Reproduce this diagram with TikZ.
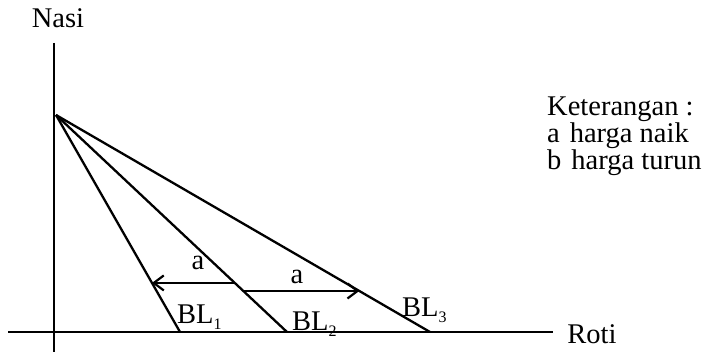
\documentclass[tikz,border=0pt]{standalone}
\usepackage{fontspec}
\setmainfont{Liberation Serif}
\usetikzlibrary{calc,arrows.meta}
\newcommand{\blsub}[1]{\raisebox{-6pt}{\fontsize{16}{16}\selectfont #1}}
\begin{document}
\begin{tikzpicture}[x=1pt,y=1pt,
  axis/.style={line width=2.4pt},
  budget/.style={line width=2.3pt},
  shiftarrow/.style={line width=2.2pt,-{Straight Barb[length=10pt,width=15pt,line width=2.2pt]}},
  lbl/.style={font=\fontsize{28.5}{28.5}\selectfont,inner sep=0pt}]
\useasboundingbox (0,0) rectangle (715,355);
% axes
\coordinate (ytop) at (54,312);
\coordinate (ybot) at (54,3);
\coordinate (xl) at (8,23);
\coordinate (xr) at (553,23);
\draw[axis] (ytop) -- (ybot);
\draw[axis] (xl) -- (xr);
% budget lines
\coordinate (A) at (56,240);
\coordinate (B1) at (180,23);
\coordinate (B2) at (287,23);
\coordinate (B3) at (430,23);
\draw[budget] (A) -- (B1);
\draw[budget] (A) -- (B2);
\draw[budget] (A) -- (B3);
% shifts
\coordinate (L2) at ($(A)!0.774!(B2)$);
\coordinate (L1) at ($(A)!0.774!(B1)$);
\coordinate (R2) at ($(A)!0.811!(B2)$);
\coordinate (R3) at ($(A)!0.811!(B3)$);
\draw[shiftarrow] (L2) -- (L1);
\draw[shiftarrow] (R2) -- (R3);
% labels
\node[lbl] (la1) at (198,92) {a};
\node[lbl] (la2) at (297,78) {a};
\node[lbl,anchor=base west] (bl1) at (177,31) {BL\blsub{1}};
\node[lbl,anchor=base west] (bl2) at (292,24) {BL\blsub{2}};
\node[lbl,anchor=base west] (bl3) at (402,38) {BL\blsub{3}};
\node[lbl] (nasi) at (58,337) {Nasi};
\node[lbl] (roti) at (592,21) {Roti};
\node[lbl,anchor=base west] (k0) at (547,239) {Keterangan :};
\node[lbl,anchor=base west] (k1) at (547,212) {a\hspace{10pt}harga naik};
\node[lbl,anchor=base west] (k2) at (547,185) {b\hspace{10pt}harga turun};
\end{tikzpicture}
\end{document}
